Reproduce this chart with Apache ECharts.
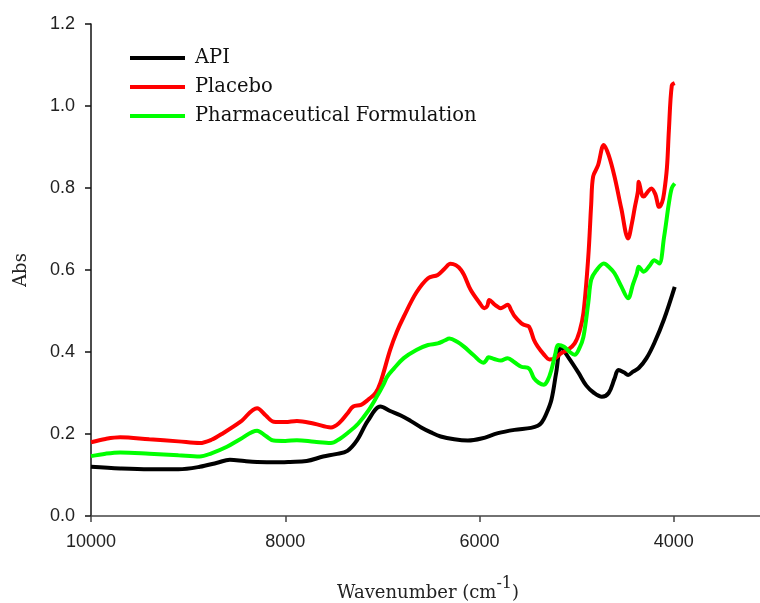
<!DOCTYPE html>
<html>
<head>
<meta charset="utf-8">
<script src="https://cdn.jsdelivr.net/npm/echarts@6/dist/echarts.min.js"></script>
<style>
  html, body { margin: 0; padding: 0; background: #ffffff; }
  #chart { width: 760px; height: 603px; }
</style>
</head>
<body>
<div id="chart"></div>
<script>
// NIR absorbance spectra (wavenumber in cm-1, absorbance)
const seriesNames = ['API', 'Placebo', 'Pharmaceutical Formulation'];
const seriesColors = ['#000000', '#ff0000', '#00ff00'];

const apiWave = [10000, 9700, 9400, 9100, 8880, 8700, 8570, 8420, 8290, 8100, 7950, 7780, 7610, 7480, 7360, 7260, 7150, 7020, 6920, 6810, 6710, 6600, 6500, 6400, 6260, 6120, 5980, 5810, 5640, 5470, 5400, 5360, 5320, 5260, 5210, 5160, 5080, 4980, 4900, 4820, 4740, 4670, 4610, 4570, 4510, 4470, 4420, 4360, 4280, 4200, 4100, 3990];
const apiAbs  = [0.120, 0.116, 0.114, 0.114, 0.120, 0.130, 0.137, 0.134, 0.132, 0.131, 0.132, 0.134, 0.145, 0.151, 0.159, 0.185, 0.232, 0.267, 0.256, 0.245, 0.232, 0.216, 0.204, 0.194, 0.187, 0.184, 0.189, 0.202, 0.210, 0.215, 0.220, 0.228, 0.245, 0.283, 0.350, 0.410, 0.385, 0.349, 0.318, 0.300, 0.291, 0.300, 0.335, 0.356, 0.350, 0.344, 0.352, 0.361, 0.385, 0.422, 0.480, 0.559];

const placeboWave = [10000, 9850, 9700, 9400, 9100, 8880, 8760, 8640, 8460, 8290, 8200, 8120, 8000, 7880, 7700, 7530, 7440, 7360, 7300, 7220, 7140, 7070, 7020, 6920, 6850, 6780, 6650, 6530, 6430, 6360, 6300, 6190, 6090, 6000, 5950, 5920, 5900, 5840, 5780, 5710, 5670, 5640, 5570, 5540, 5490, 5440, 5400, 5340, 5280, 5220, 5160, 5090, 5020, 4970, 4930, 4880, 4850, 4830, 4780, 4720, 4670, 4610, 4540, 4470, 4430, 4400, 4370, 4360, 4330, 4310, 4270, 4230, 4190, 4150, 4120, 4100, 4070, 4050, 4020, 3990];
const placeboAbs  = [0.180, 0.188, 0.192, 0.187, 0.182, 0.178, 0.186, 0.202, 0.230, 0.263, 0.245, 0.230, 0.229, 0.232, 0.225, 0.216, 0.228, 0.250, 0.267, 0.271, 0.285, 0.300, 0.325, 0.405, 0.450, 0.486, 0.545, 0.580, 0.588, 0.603, 0.615, 0.600, 0.551, 0.520, 0.507, 0.512, 0.527, 0.515, 0.507, 0.515, 0.500, 0.488, 0.470, 0.466, 0.462, 0.430, 0.413, 0.395, 0.382, 0.385, 0.397, 0.405, 0.421, 0.450, 0.495, 0.632, 0.760, 0.828, 0.855, 0.905, 0.880, 0.828, 0.750, 0.677, 0.715, 0.754, 0.790, 0.815, 0.785, 0.779, 0.790, 0.799, 0.785, 0.754, 0.765, 0.787, 0.850, 0.941, 1.050, 1.056];

const formulationWave = [10000, 9850, 9700, 9400, 9100, 8880, 8760, 8600, 8460, 8290, 8200, 8120, 8000, 7880, 7700, 7530, 7440, 7360, 7250, 7150, 7060, 6990, 6950, 6880, 6780, 6650, 6530, 6430, 6360, 6310, 6230, 6160, 6060, 5960, 5930, 5910, 5850, 5780, 5710, 5640, 5570, 5490, 5440, 5390, 5340, 5300, 5260, 5220, 5190, 5130, 5070, 5020, 4970, 4930, 4880, 4850, 4800, 4720, 4670, 4610, 4540, 4470, 4420, 4380, 4360, 4310, 4250, 4200, 4150, 4100, 4050, 4020, 3990];
const formulationAbs  = [0.146, 0.152, 0.155, 0.152, 0.148, 0.145, 0.153, 0.169, 0.188, 0.208, 0.195, 0.184, 0.183, 0.185, 0.181, 0.178, 0.188, 0.202, 0.225, 0.255, 0.290, 0.320, 0.340, 0.360, 0.385, 0.405, 0.417, 0.421, 0.428, 0.433, 0.425, 0.413, 0.392, 0.374, 0.380, 0.387, 0.383, 0.379, 0.385, 0.375, 0.364, 0.360, 0.336, 0.325, 0.320, 0.330, 0.356, 0.395, 0.417, 0.413, 0.400, 0.393, 0.410, 0.437, 0.520, 0.576, 0.598, 0.616, 0.608, 0.592, 0.560, 0.531, 0.565, 0.592, 0.608, 0.596, 0.610, 0.624, 0.616, 0.680, 0.763, 0.800, 0.811];

const xTickInterval = 2000;
const yTicks = [0.0, 0.2, 0.4, 0.6, 0.8, 1.0, 1.2];

const waves = [apiWave, placeboWave, formulationWave];
const values = [apiAbs, placeboAbs, formulationAbs];

const serifFont = '"DejaVu Serif", "Liberation Serif", serif';
const sansFont = '"Liberation Sans", Arial, sans-serif';

const chart = echarts.init(document.getElementById('chart'), null, { renderer: 'canvas' });

const series = seriesNames.map((name, k) => ({
  name: name,
  type: 'line',
  data: waves[k].map((w, i) => [w, values[k][i]]),
  smooth: 0.35,
  showSymbol: false,
  symbol: 'none',
  color: seriesColors[k],
  lineStyle: { width: 4, color: seriesColors[k] },
  z: 2 + k
}));

chart.setOption({
  animation: false,
  backgroundColor: '#ffffff',
  grid: {
    left: 91,
    right: -108,
    top: 24,
    bottom: 87,
    containLabel: false,
    outerBoundsMode: 'none'
  },
  legend: {
    left: 130,
    top: 48,
    padding: 0,
    orient: 'vertical',
    icon: 'rect',
    itemWidth: 55,
    itemHeight: 4,
    itemGap: 9,
    textStyle: { fontFamily: serifFont, fontSize: 19.5, color: '#111', lineHeight: 19, padding: [0, 0, 0, 5] },
    data: seriesNames
  },
  xAxis: {
    type: 'value',
    min: 2000,
    max: 10000,
    interval: xTickInterval,
    inverse: true,
    axisLine: { show: true, lineStyle: { color: '#444', width: 1.5 } },
    axisTick: { show: true, inside: false, length: 6, lineStyle: { color: '#444', width: 1.5 } },
    splitLine: { show: false },
    axisLabel: {
      fontFamily: sansFont, fontSize: 18, color: '#222', margin: 17,
      formatter: v => String(v)
    }
  },
  yAxis: {
    type: 'value',
    min: yTicks[0],
    max: yTicks[yTicks.length - 1],
    interval: 0.2,
    name: 'Abs',
    nameLocation: 'middle',
    nameGap: 61,
    nameTextStyle: { fontFamily: serifFont, fontSize: 18, color: '#222' },
    axisLine: { show: true, lineStyle: { color: '#111', width: 1.5 } },
    axisTick: { show: true, inside: false, length: 6, lineStyle: { color: '#111', width: 1.5 } },
    splitLine: { show: false },
    axisLabel: {
      fontFamily: sansFont, fontSize: 18, color: '#222', margin: 16,
      formatter: v => v.toFixed(1)
    }
  },
  graphic: [{
    type: 'text',
    left: 337,
    top: 576,
    style: {
      text: '{a|Wavenumber (cm}{s|-1}{a|)}',
      rich: {
        a: { fontFamily: serifFont, fontSize: 18, fill: '#222', lineHeight: 18, verticalAlign: 'bottom' },
        s: { fontFamily: serifFont, fontSize: 16, fill: '#222', lineHeight: 26, verticalAlign: 'top' }
      }
    }
  }],
  series: series
});
</script>
</body>
</html>
